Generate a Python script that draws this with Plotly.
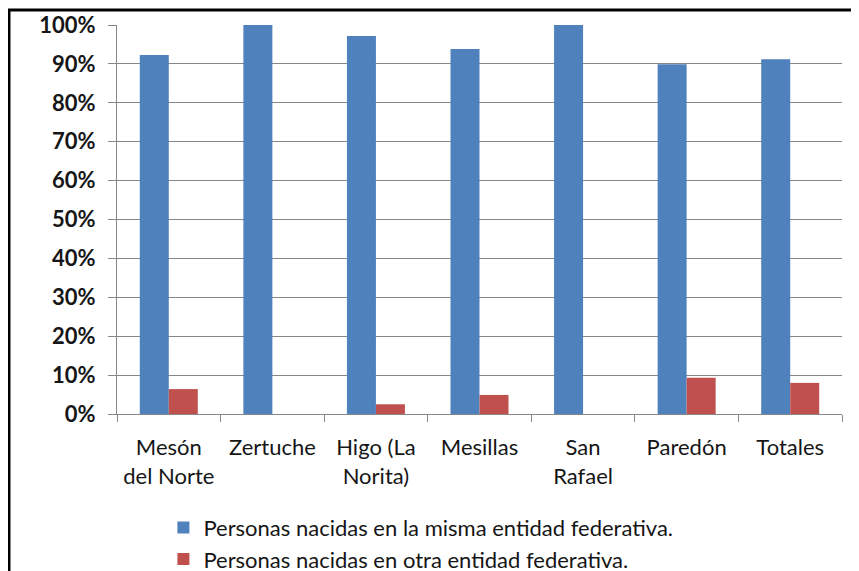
import plotly.graph_objects as go

# Datos
localidades = [
    "Mesón<br>del Norte",
    "Zertuche",
    "Higo (La<br>Norita)",
    "Mesillas",
    "San<br>Rafael",
    "Paredón",
    "Totales",
]
misma_entidad = [0.923, 1.0, 0.972, 0.938, 1.0, 0.899, 0.912]
otra_entidad = [0.064, 0.0, 0.025, 0.049, 0.0, 0.093, 0.080]
y_ticks = [0, 0.1, 0.2, 0.3, 0.4, 0.5, 0.6, 0.7, 0.8, 0.9, 1.0]

_FONT = "Lato, Open Sans, Arial, sans-serif"
_BLUE = "#4F81BD"
_RED = "#C0504D"
_GRID = "#878787"
_TEXT = "#161616"

fig = go.Figure()
fig.add_trace(go.Bar(
    x=localidades, y=misma_entidad,
    name="Personas nacidas en la misma entidad federativa.",
    marker=dict(color=_BLUE, line=dict(width=0)),
))
fig.add_trace(go.Bar(
    x=localidades, y=otra_entidad,
    name="Personas nacidas en otra entidad federativa.",
    marker=dict(color=_RED, line=dict(width=0)),
))

# the page body has an 8px margin, so the margins are shifted to compensate
fig.update_layout(
    width=859,
    height=571,
    margin=dict(l=109, r=25, t=17, b=165, autoexpand=False),
    paper_bgcolor="white",
    plot_bgcolor="white",
    barmode="group",
    bargap=0.44,
    bargroupgap=0,
    font=dict(family=_FONT, color=_TEXT, size=22),
    showlegend=True,
    legend=dict(
        orientation="v",
        x=0.064, y=-0.238,
        xanchor="left", yanchor="top",
        font=dict(size=22, color=_TEXT),
        itemwidth=30,
        tracegroupgap=0,
        bgcolor="rgba(0,0,0,0)",
    ),
    shapes=[
        dict(type="rect", xref="paper", yref="paper",
             x0=-0.149, x1=1.1, y0=-0.6, y1=1.0386,
             line=dict(color="black", width=3), fillcolor="rgba(0,0,0,0)",
             layer="above"),
    ],
)

fig.update_xaxes(
    automargin=False,
    showgrid=False,
    showline=True, linecolor=_GRID, linewidth=1,
    ticks="outside", ticklen=7, tickcolor=_GRID,
    tickson="boundaries",
    tickfont=dict(size=22, family=_FONT, color=_TEXT),
    ticklabelstandoff=14,
)
fig.update_yaxes(
    automargin=False,
    range=[0, 1],
    tickvals=y_ticks,
    tickformat=".0%",
    showgrid=True, gridcolor=_GRID, gridwidth=1,
    showline=True, linecolor=_GRID, linewidth=1,
    ticks="outside", ticklen=8, tickcolor=_GRID,
    zeroline=False,
    tickfont=dict(size=22, family=_FONT, color=_TEXT, weight="bold"),
    ticklabelstandoff=8,
)

fig.write_html("out.html")
